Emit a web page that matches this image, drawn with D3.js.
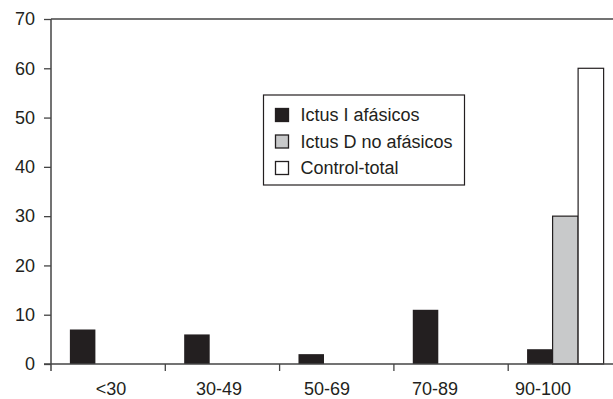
<!DOCTYPE html>
<html>
<head>
<meta charset="utf-8">
<script src="https://cdn.jsdelivr.net/npm/d3@7"></script>
<style>
  body { margin: 0; background: #fff; }
  svg text { font-family: "Liberation Sans", Arial, Helvetica, sans-serif; fill: #231f20; }
</style>
</head>
<body>
<svg width="613" height="399"></svg>
<script>
// data
const categories = ["<30", "30-49", "50-69", "70-89", "90-100"];
const series = ["Ictus I afásicos", "Ictus D no afásicos", "Control-total"];
const ictusI = [7, 6, 2, 11, 3];
const ictusD = [0, 0, 0, 0, 30];
const control = [0, 0, 0, 0, 60];
const yTicks = [0, 10, 20, 30, 40, 50, 60, 70];

const values = [ictusI, ictusD, control];
const fills = ["#231f20", "#c8c9ca", "#ffffff"];
const ink = "#231f20";

const svg = d3.select("svg");
const mLeft = 51, mTop = 19, mBottom = 364, mRight = 622.5;

const x0 = d3.scaleBand().domain(categories).range([mLeft, mRight]).padding(0);
const x1 = d3.scaleBand().domain(series).range([0, x0.bandwidth()])
    .paddingInner(0).paddingOuter(0.74);
const y = d3.scaleLinear().domain([0, 70]).range([mBottom, mTop]);
// labels in the original sit a bit left of the band centres
const xLabel = d3.scalePoint().domain(categories).range([111, 543]);

// bars
const rows = [];
categories.forEach((c, i) => {
    series.forEach((s, j) => {
        if (values[j][i] > 0) rows.push({ c, s, v: values[j][i], j });
    });
});

svg.append("g").selectAll("rect")
    .data(rows)
    .join("rect")
    .attr("x", d => x0(d.c) + x1(d.s))
    .attr("y", d => y(d.v))
    .attr("width", x1.bandwidth())
    .attr("height", d => y(0) - y(d.v))
    .attr("fill", d => fills[d.j])
    .attr("stroke", d => d.j === 0 ? "none" : ink)
    .attr("stroke-width", 1.2);

// y axis
const yAxis = svg.append("g")
    .attr("transform", `translate(${mLeft},0)`)
    .call(d3.axisLeft(y).tickValues(yTicks).tickSize(7).tickPadding(9));
yAxis.select(".domain").remove();
yAxis.selectAll("line").attr("stroke", "#444").attr("stroke-width", 1.3);
yAxis.selectAll("text").style("font-size", "18px").attr("fill", ink);

const lineColor = "#444";
// vertical axis line, running a little past zero
svg.append("line")
    .attr("x1", mLeft).attr("x2", mLeft)
    .attr("y1", y(70)).attr("y2", y(0) + 7)
    .attr("stroke", lineColor).attr("stroke-width", 1.5);
// top frame line
svg.append("line")
    .attr("x1", mLeft).attr("x2", 613)
    .attr("y1", y(70)).attr("y2", y(70))
    .attr("stroke", lineColor).attr("stroke-width", 1.5);
// baseline
svg.append("line")
    .attr("x1", mLeft - 7).attr("x2", 613)
    .attr("y1", y(0)).attr("y2", y(0))
    .attr("stroke", lineColor).attr("stroke-width", 1.5);

// x ticks at band boundaries
svg.append("g").selectAll("line")
    .data(categories.slice(1))
    .join("line")
    .attr("x1", d => x0(d)).attr("x2", d => x0(d))
    .attr("y1", y(0)).attr("y2", y(0) + 7)
    .attr("stroke", lineColor).attr("stroke-width", 1.3);

svg.append("g").selectAll("text")
    .data(categories)
    .join("text")
    .attr("x", d => xLabel(d))
    .attr("y", 394.5)
    .attr("text-anchor", "middle")
    .style("font-size", "18px")
    .text(d => d);

// legend
const legend = svg.append("g").attr("transform", "translate(263.5,95)");
legend.append("rect")
    .attr("width", 201).attr("height", 90)
    .attr("fill", "#fff").attr("stroke", ink).attr("stroke-width", 1.2);
const item = legend.selectAll(".item")
    .data(series)
    .join("g")
    .attr("class", "item")
    .attr("transform", (d, i) => `translate(12,${20 + i * 26.5})`);
item.append("rect")
    .attr("x", 0).attr("y", -6.5)
    .attr("width", 13).attr("height", 13)
    .attr("fill", (d, i) => fills[i])
    .attr("stroke", ink).attr("stroke-width", 1.3);
item.append("text")
    .attr("x", 25).attr("y", 6)
    .style("font-size", "18px")
    .text(d => d);
</script>
</body>
</html>
